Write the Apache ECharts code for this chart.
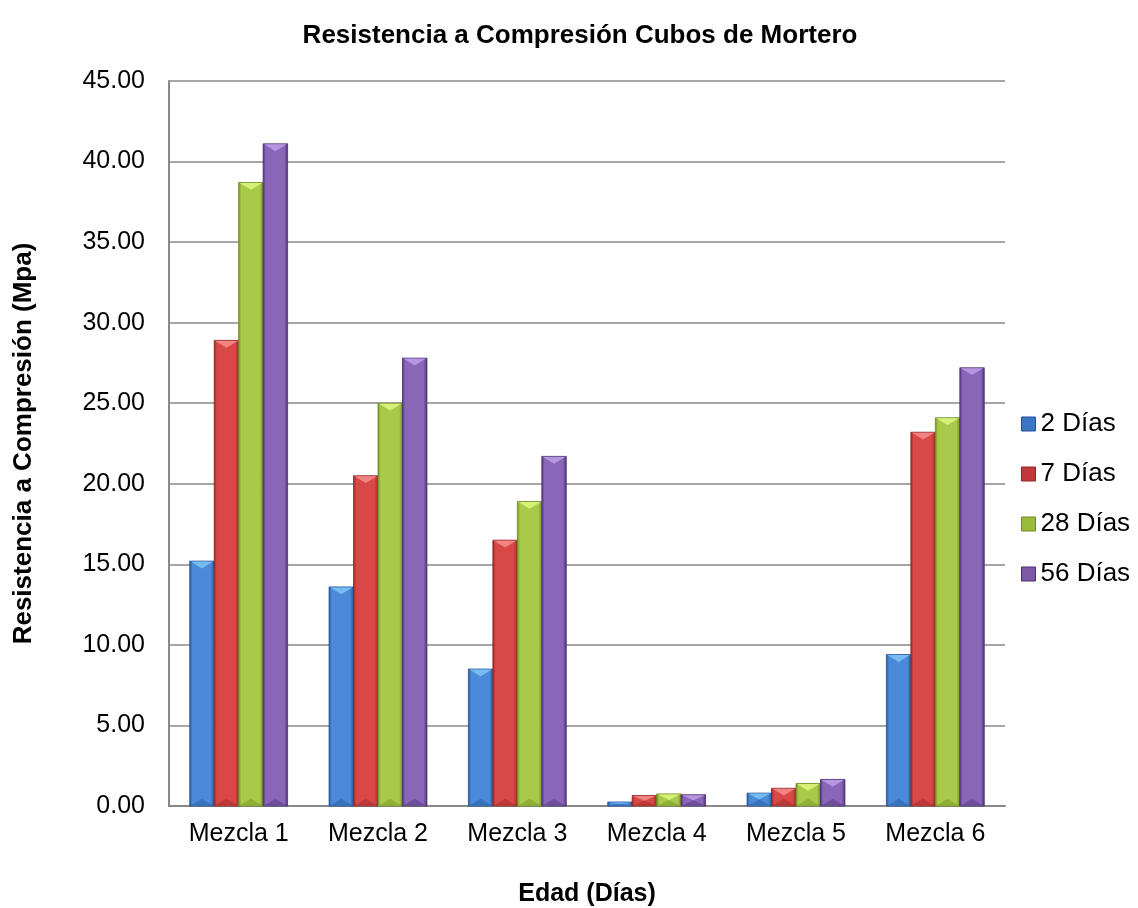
<!DOCTYPE html>
<html>
<head>
<meta charset="utf-8">
<script src="https://cdn.jsdelivr.net/npm/echarts@6/dist/echarts.min.js"></script>
<style>html,body{margin:0;padding:0;background:#fff}#c{width:1138px;height:908px}</style>
</head>
<body>
<div id="c"></div>
<script>
const categories = ['Mezcla 1','Mezcla 2','Mezcla 3','Mezcla 4','Mezcla 5','Mezcla 6'];
const seriesNames = ['2 Días','7 Días','28 Días','56 Días'];
const d2  = [15.2, 13.6, 8.5, 0.25, 0.8, 9.4];
const d7  = [28.9, 20.5, 16.5, 0.65, 1.1, 23.2];
const d28 = [38.7, 25.0, 18.9, 0.75, 1.4, 24.1];
const d56 = [41.1, 27.8, 21.7, 0.7, 1.65, 27.2];
const allData = [d2, d7, d28, d56];

const palettes = [
  {edge:'#245394', mid:'#4a8ad8', top:'#7cc0f6', bot:'#2d63a8', legend:'#3a76c4'},
  {edge:'#8e2424', mid:'#d84846', top:'#f48a88', bot:'#a83030', legend:'#c0393a'},
  {edge:'#6f8c22', mid:'#a8ca48', top:'#dcf47c', bot:'#7e9c2c', legend:'#9bbb3b'},
  {edge:'#4a2f70', mid:'#8a66b8', top:'#bc9ae6', bot:'#5e4088', legend:'#7d5aa6'}
];

function makeRender(s) {
  const p = palettes[s];
  return function (params, api) {
    const idx = api.value(0);
    const val = api.value(1);
    const top = api.coord([idx, val]);
    const base = api.coord([idx, 0]);
    const band = api.size([1, 0])[0];
    const w = band * 98 / 139.5 / 4;
    const x0 = top[0] - 2 * w + s * w;
    const yT = top[1];
    const yB = base[1];
    const h = yB - yT;
    const tri = Math.min(w * 0.3, h / 2);
    const grad = new echarts.graphic.LinearGradient(0, 0, 1, 0, [
      {offset: 0, color: p.edge},
      {offset: 0.12, color: p.mid},
      {offset: 0.5, color: p.mid},
      {offset: 0.85, color: p.mid},
      {offset: 1, color: p.edge}
    ]);
    return {
      type: 'group',
      children: [
        {type: 'rect', shape: {x: x0, y: yT, width: w, height: h},
         style: {fill: grad, stroke: p.edge, lineWidth: 0.8}},
        {type: 'polygon', shape: {points: [[x0 + 1, yT + 0.5], [x0 + w - 1, yT + 0.5], [x0 + w / 2, yT + tri]]},
         style: {fill: p.top, opacity: 0.9}},
        {type: 'polygon', shape: {points: [[x0 + 1, yB - 0.5], [x0 + w - 1, yB - 0.5], [x0 + w / 2, yB - tri]]},
         style: {fill: p.bot, opacity: 0.6}}
      ]
    };
  };
}

const chart = echarts.init(document.getElementById('c'), null, {renderer: 'canvas'});
const font = 'Liberation Sans, Arial, sans-serif';
chart.setOption({
  animation: false,
  backgroundColor: '#ffffff',
  title: {
    text: 'Resistencia a Compresión Cubos de Mortero',
    left: 575, top: 18, textAlign: 'center',
    textStyle: {fontFamily: font, fontSize: 26, fontWeight: 'bold', color: '#000'}
  },
  legend: {
    orient: 'vertical', left: 1016, top: 406, itemGap: 24,
    itemWidth: 14, itemHeight: 14, icon: 'rect',
    textStyle: {fontFamily: font, fontSize: 26, color: '#000'},
    data: seriesNames.map((n, i) => ({name: n, itemStyle: {color: palettes[i].legend, borderColor: palettes[i].edge, borderWidth: 1}}))
  },
  grid: {left: 169, right: 133, top: 81, bottom: 102, containLabel: false, outerBoundsMode: 'none'},
  xAxis: {
    type: 'category', data: categories,
    name: 'Edad (Días)', nameLocation: 'middle', nameGap: 76,
    nameTextStyle: {fontFamily: font, fontSize: 25, fontWeight: 'bold', color: '#000'},
    axisLine: {lineStyle: {color: '#888', width: 2}},
    axisTick: {show: false},
    axisLabel: {fontFamily: font, fontSize: 25, color: '#000', margin: 16}
  },
  yAxis: {
    type: 'value', min: 0, max: 45, interval: 5,
    name: 'Resistencia a Compresión (Mpa)', nameLocation: 'middle', nameGap: 132,
    nameTextStyle: {fontFamily: font, fontSize: 26, fontWeight: 'bold', color: '#000'},
    axisLine: {show: true, lineStyle: {color: '#888', width: 2}},
    axisTick: {show: false},
    splitLine: {lineStyle: {color: '#888', width: 1.5}},
    axisLabel: {fontFamily: font, fontSize: 25, color: '#000', margin: 24, formatter: v => v.toFixed(2)}
  },
  series: allData.map((arr, s) => ({
    type: 'custom', name: seriesNames[s],
    itemStyle: {color: palettes[s].legend},
    renderItem: makeRender(s),
    encode: {x: 0, y: 1},
    data: arr.map((v, i) => [i, v])
  }))
});
</script>
</body>
</html>
